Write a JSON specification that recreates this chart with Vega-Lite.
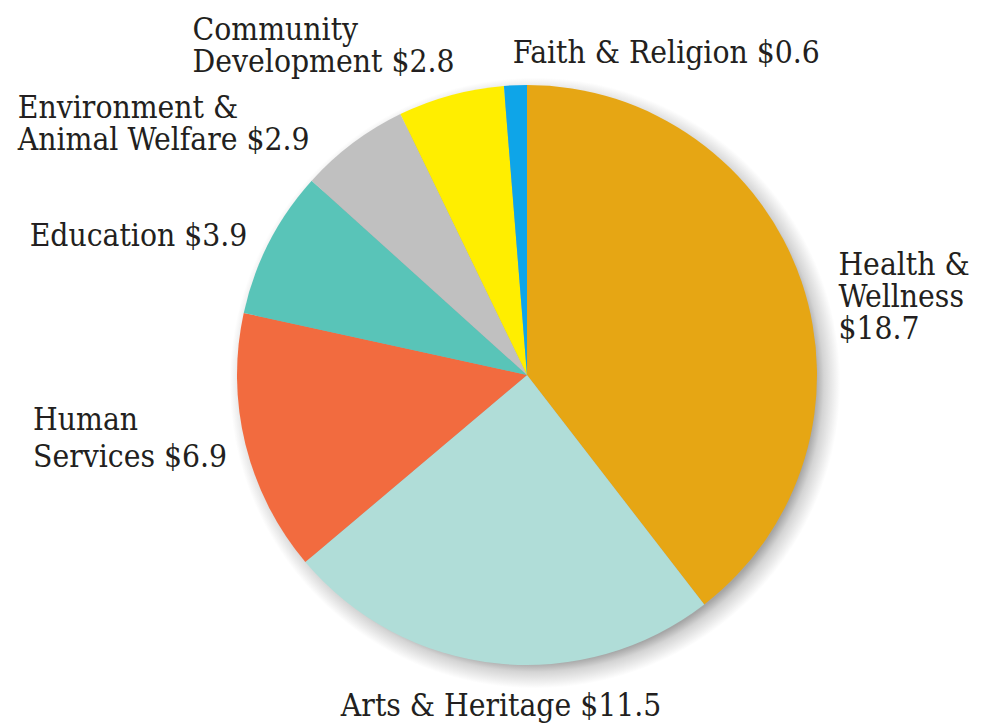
{
  "$schema": "https://vega.github.io/schema/vega-lite/v6.json",
  "autosize": "none",
  "width": 924,
  "height": 696,
  "padding": {"left": 65, "top": 27, "right": 0, "bottom": 0},
  "background": "white",
  "config": {"view": {"stroke": null}, "text": {"font": "DejaVu Serif Condensed", "fontSize": 31.5, "color": "#231f20", "lineHeight": 32}},
  "datasets": {
    "funds": [
      {"category": "Health & Wellness", "value": 18.7, "order": 1},
      {"category": "Arts & Heritage", "value": 11.5, "order": 2},
      {"category": "Human Services", "value": 6.9, "order": 3},
      {"category": "Education", "value": 3.9, "order": 4},
      {"category": "Environment & Animal Welfare", "value": 2.9, "order": 5},
      {"category": "Community Development", "value": 2.8, "order": 6},
      {"category": "Faith & Religion", "value": 0.6, "order": 7}
    ],
    "shadow": [{"part": "shadow"}]
  },
  "layer": [
    {
      "data": {"name": "shadow"},
      "mark": {"type": "arc", "radius": 320, "theta": 0, "theta2": 6.2832,
        "color": {"gradient": "radial", "x1": 0.5125, "y1": 0.5125, "r1": 0.4375, "x2": 0.5125, "y2": 0.5125, "r2": 0.477,
          "stops": [{"offset": 0, "color": "#a6a6a6"}, {"offset": 0.35, "color": "#d4d4d4"}, {"offset": 1, "color": "#ffffff"}]}},
      "encoding": {}
    },
    {
      "data": {"name": "funds"},
      "encoding": {
        "theta": {"field": "value", "type": "quantitative", "stack": true},
        "order": {"field": "order", "type": "quantitative"}
      },
      "layer": [
        {
          "mark": {"type": "arc", "radius": 290},
          "encoding": {
            "color": {"field": "category", "type": "nominal", "legend": null,
              "scale": {
                "domain": ["Health & Wellness", "Arts & Heritage", "Human Services", "Education", "Environment & Animal Welfare", "Community Development", "Faith & Religion"],
                "range": ["#E6A614", "#B0DDD8", "#F26B3F", "#59C4B8", "#C0C0C0", "#FFEE00", "#0EA5E8"]
              }}
          }
        },
        {
          "mark": {"type": "text", "radius": 310, "align": "left", "baseline": "middle", "dx": 18, "dy": -9},
          "encoding": {"text": {"condition": {"test": "datum.category === 'Health & Wellness'", "value": ["Health &", "Wellness", "$18.7"]}, "value": ""}}
        },
        {
          "mark": {"type": "text", "radius": 310, "align": "center", "baseline": "middle", "dx": 7, "dy": 24},
          "encoding": {"text": {"condition": {"test": "datum.category === 'Arts & Heritage'", "value": "Arts & Heritage $11.5"}, "value": ""}}
        },
        {
          "mark": {"type": "text", "radius": 310, "align": "left", "baseline": "middle", "dx": -193, "dy": -28, "lineHeight": 37},
          "encoding": {"text": {"condition": {"test": "datum.category === 'Human Services'", "value": ["Human", "Services $6.9"]}, "value": ""}}
        },
        {
          "mark": {"type": "text", "radius": 310, "align": "right", "baseline": "middle", "dx": -4, "dy": 4},
          "encoding": {"text": {"condition": {"test": "datum.category === 'Education'", "value": "Education $3.9"}, "value": ""}}
        },
        {
          "mark": {"type": "text", "radius": 310, "align": "left", "baseline": "middle", "dx": -323, "dy": -18},
          "encoding": {"text": {"condition": {"test": "datum.category === 'Environment & Animal Welfare'", "value": ["Environment &", "Animal Welfare $2.9"]}, "value": ""}}
        },
        {
          "mark": {"type": "text", "radius": 310, "align": "left", "baseline": "middle", "dx": -253, "dy": -45},
          "encoding": {"text": {"condition": {"test": "datum.category === 'Community Development'", "value": ["Community", "Development $2.8"]}, "value": ""}}
        },
        {
          "mark": {"type": "text", "radius": 310, "align": "left", "baseline": "middle", "dx": -2, "dy": -11},
          "encoding": {"text": {"condition": {"test": "datum.category === 'Faith & Religion'", "value": "Faith & Religion $0.6"}, "value": ""}}
        }
      ]
    }
  ]
}
